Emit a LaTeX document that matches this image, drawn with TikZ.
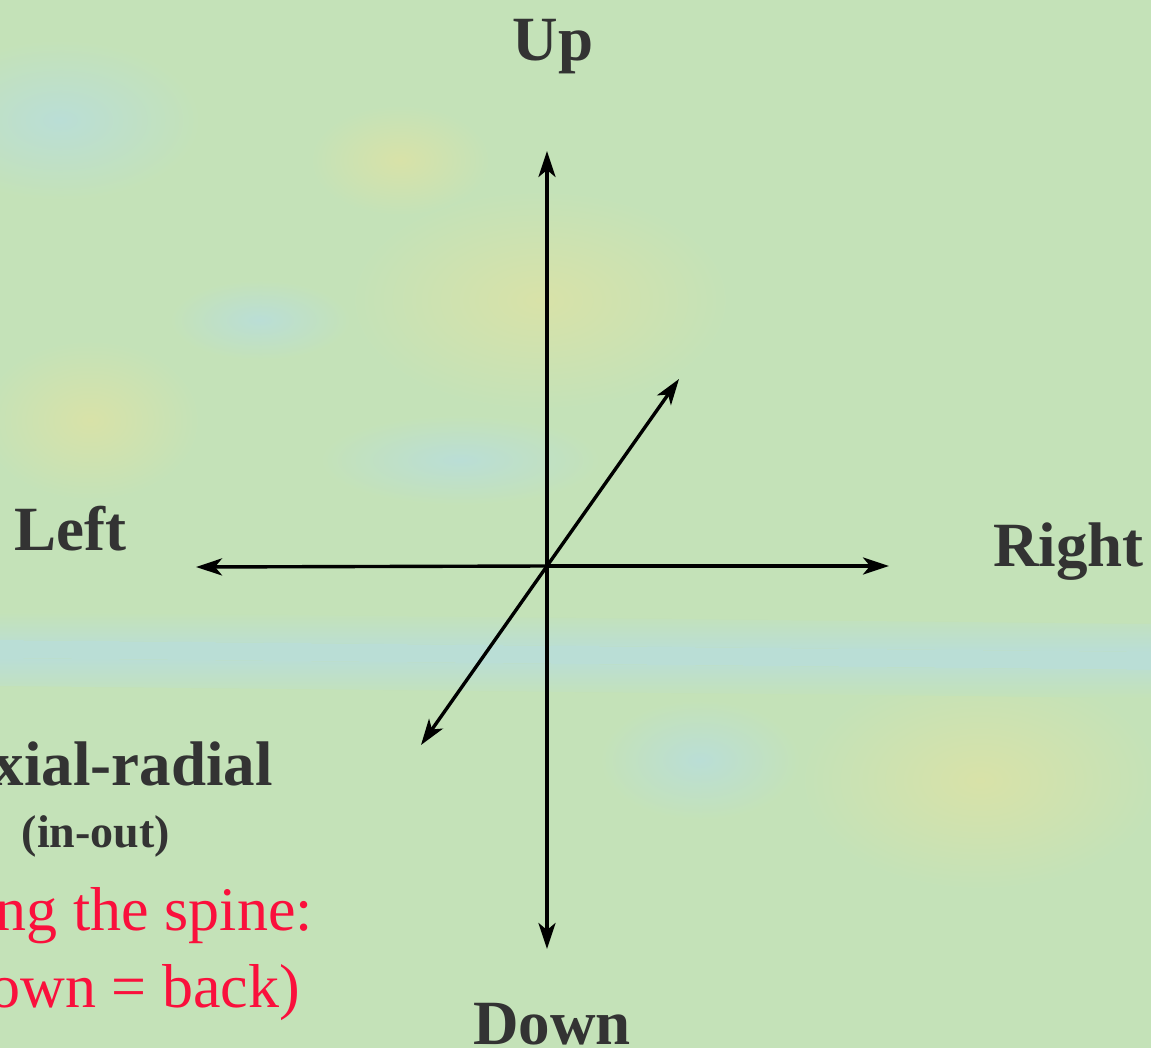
\documentclass[tikz,border=0pt]{standalone}
\usepackage{fontspec}
\setmainfont{Liberation Serif}
\usetikzlibrary{arrows.meta}
\definecolor{bgbase}{RGB}{196,226,184}
\definecolor{bgblue}{RGB}{186,222,214}
\definecolor{bgyellow}{RGB}{216,226,168}
\definecolor{txtgray}{RGB}{51,51,51}
\definecolor{txtred}{RGB}{250,16,60}
\tikzset{
  axis/.style={line width=3.4pt,-{Stealth[length=26pt,width=17pt,inset=7pt]}},
  lbl/.style={font=\fontsize{63}{70}\selectfont\bfseries,text=txtgray,inner sep=0pt},
  sublbl/.style={font=\fontsize{46}{52}\selectfont\bfseries,text=txtgray,inner sep=0pt},
  redlbl/.style={font=\fontsize{62}{70}\selectfont,text=txtred,inner sep=0pt},
  yblob/.style={inner color=bgyellow,outer color=bgbase},
  bblob/.style={inner color=bgblue,outer color=bgbase}
}
\begin{document}
\begin{tikzpicture}[x=1pt,y=-1pt]
\useasboundingbox (0,0) rectangle (1151,1048);
% background
\fill[bgbase] (0,0) rectangle (1151,1048);
\begin{scope}
\clip (0,0) rectangle (1151,1048);
\shade[yblob] (540,300) ellipse [x radius=190, y radius=110];
\shade[yblob] (400,160) ellipse [x radius=90, y radius=55];
\shade[bblob] (60,120) ellipse [x radius=140, y radius=80];
\shade[bblob] (260,320) ellipse [x radius=90, y radius=40];
\shade[bblob] (460,460) ellipse [x radius=140, y radius=45];
\shade[yblob] (980,780) ellipse [x radius=180, y radius=110];
\shade[yblob] (90,420) ellipse [x radius=110, y radius=80];
\shade[bblob] (700,760) ellipse [x radius=100, y radius=60];
\shade[top color=bgbase,bottom color=bgblue] (0,612) -- (1151,624) -- (1151,652) -- (0,640) -- cycle;
\fill[bgblue] (0,640) -- (1151,652) -- (1151,670) -- (0,658) -- cycle;
\shade[top color=bgblue,bottom color=bgbase] (0,658) -- (1151,670) -- (1151,698) -- (0,686) -- cycle;
\end{scope}
% axes
\coordinate (o) at (547,566);
\coordinate (up) at (547,151);
\coordinate (dn) at (547,949);
\coordinate (lt) at (196,567);
\coordinate (rt) at (889,566);
\coordinate (ne) at (679,379);
\coordinate (sw) at (421,745);
\draw[axis] (o) -- (up);
\draw[axis] (o) -- (dn);
\draw[axis] (o) -- (lt);
\draw[axis] (o) -- (rt);
\draw[axis] (o) -- (ne);
\draw[axis] (o) -- (sw);
% labels
\node[lbl,anchor=base] (tup) at (553,61) {Up};
\node[lbl,anchor=base west] (tleft) at (14,550) {Left};
\node[lbl,anchor=base west] (tright) at (993,566) {Right};
\node[lbl,anchor=base] (tdown) at (552,1044) {Down};
\node[lbl,anchor=base east] (tax) at (273,785) {xial-radial};
\node[sublbl,anchor=base] (tio) at (96,847) {(in-out)};
\node[redlbl,anchor=base east] (tsp) at (313,930) {ng the spine:};
\node[redlbl,anchor=base east] (tbk) at (300,1007) {own = back)};
\end{tikzpicture}
\end{document}
